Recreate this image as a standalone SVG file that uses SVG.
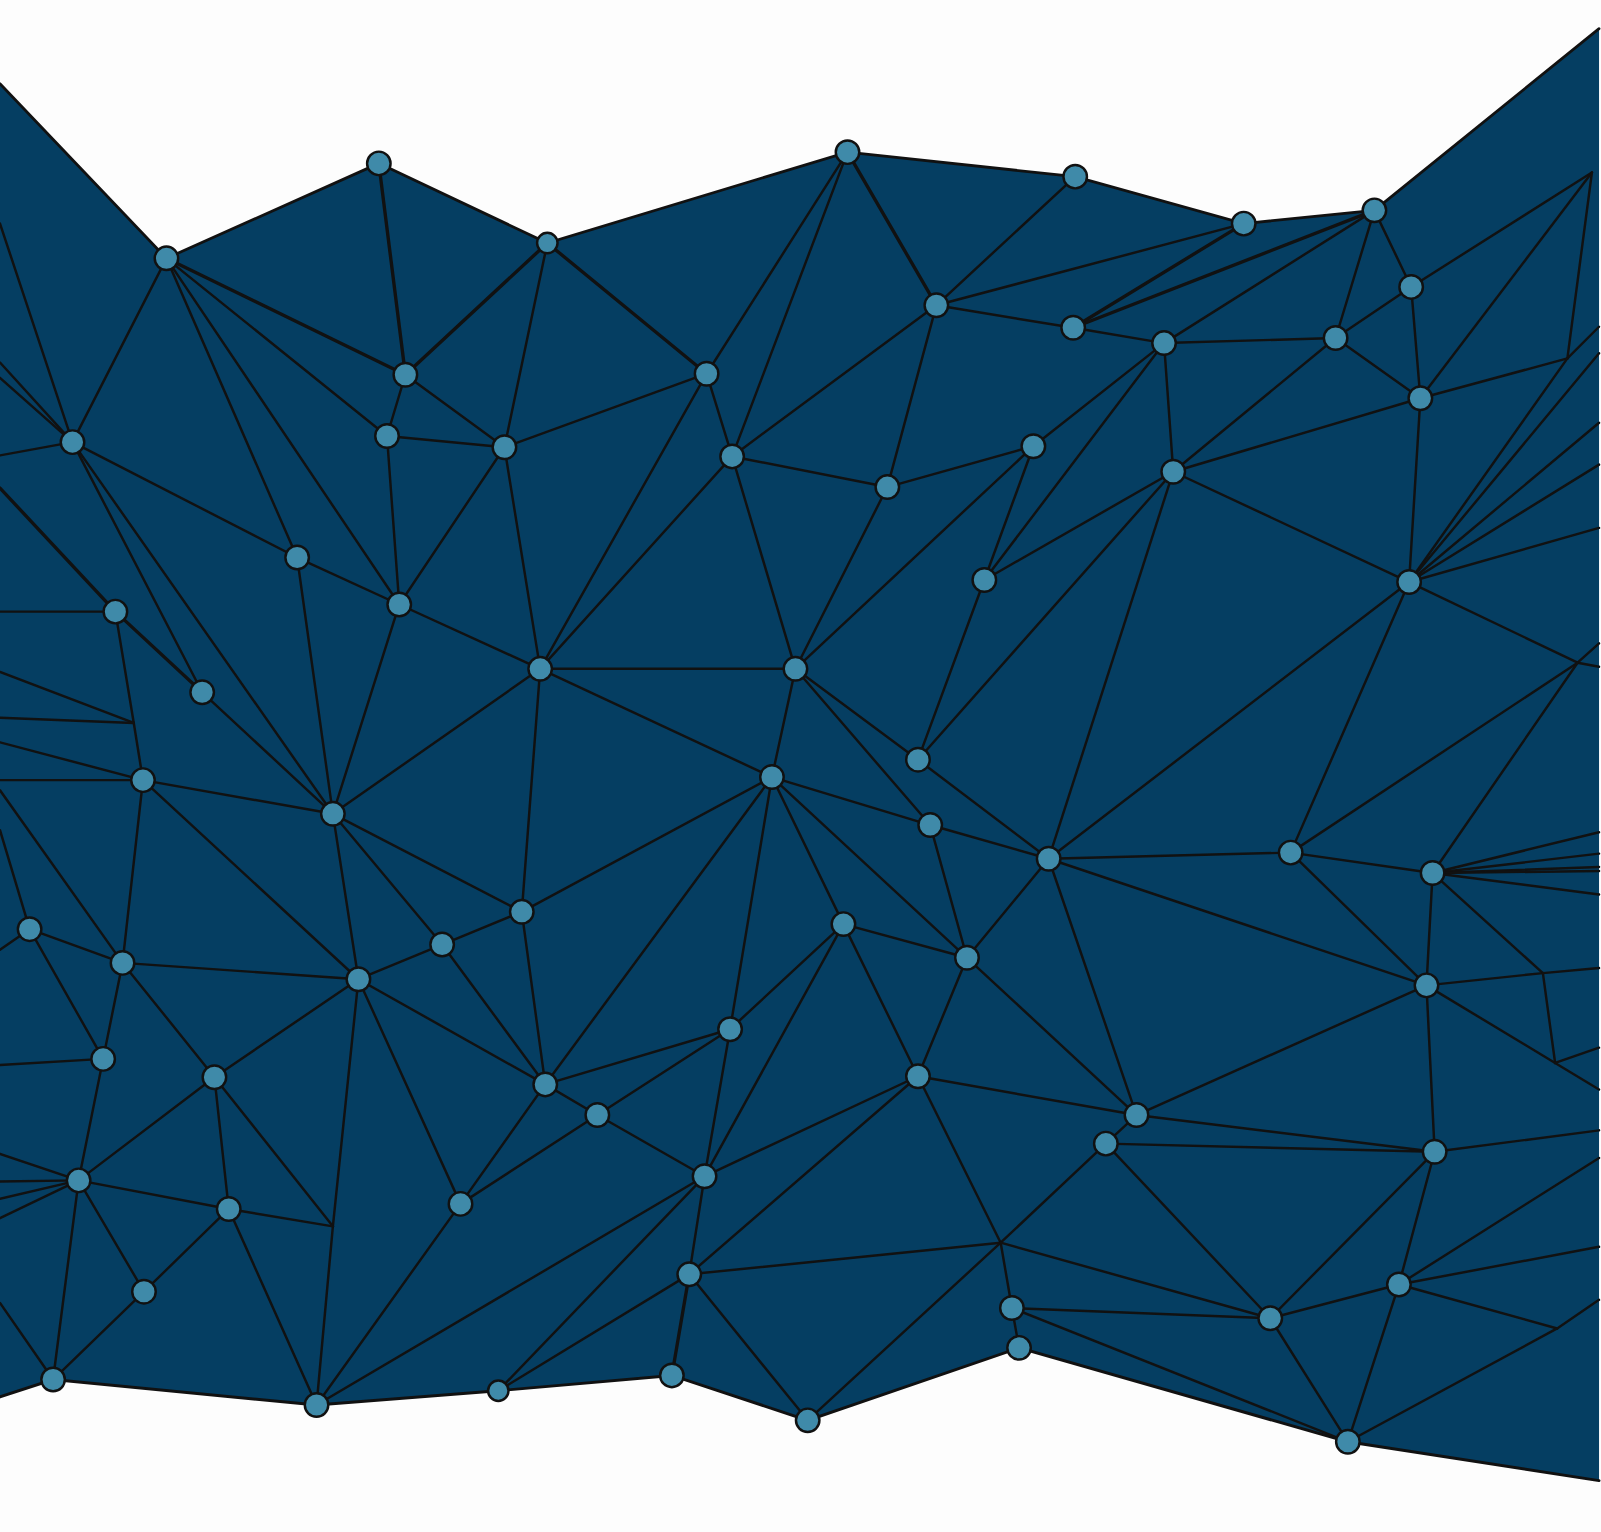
<svg xmlns="http://www.w3.org/2000/svg" width="1601" height="1532" viewBox="0 0 1601 1532">
<style>
.e{stroke:#111;stroke-width:2.4;fill:none;stroke-linecap:round}
.t{stroke-width:3.3}
.n{fill:#3f8aa9;stroke:#111;stroke-width:2.4}
</style>
<rect width="1601" height="1532" fill="#fdfdfd"/>
<g transform="scale(1.0211)">
<path d="M0,82 L163,253 L371,160 L536,238 L830,149 L1053,173 L1218,219 L1346,206 L1566,28 L1566,1450 L1320,1412 L998,1320 L791,1391 L658,1347 L488,1362 L310,1376 L52,1351 L0,1368 Z" fill="#053e62"/>
<g id="connectors">
<path class="e" d="M0,82 L163,253 L371,160 L536,238 L830,149 L1053,173 L1218,219 L1346,206 L1566,28" style="stroke-width:2.7"/>
<path class="e" d="M1566,1450 L1320,1412 L998,1320 L791,1391 L658,1347 L488,1362 L310,1376 L52,1351 L0,1368" style="stroke-width:2.9"/>
<line class="e" x1="163" y1="253" x2="71" y2="433"/>
<line class="e t" x1="163" y1="253" x2="397" y2="367"/>
<line class="e" x1="163" y1="253" x2="379" y2="427"/>
<line class="e" x1="163" y1="253" x2="291" y2="546"/>
<line class="e" x1="163" y1="253" x2="391" y2="592"/>
<line class="e t" x1="371" y1="160" x2="397" y2="367"/>
<line class="e t" x1="536" y1="238" x2="397" y2="367"/>
<line class="e" x1="536" y1="238" x2="494" y2="438"/>
<line class="e t" x1="536" y1="238" x2="692" y2="366"/>
<line class="e" x1="830" y1="149" x2="692" y2="366"/>
<line class="e" x1="830" y1="149" x2="717" y2="447"/>
<line class="e t" x1="830" y1="149" x2="917" y2="299"/>
<line class="e" x1="1053" y1="173" x2="917" y2="299"/>
<line class="e" x1="1218" y1="219" x2="917" y2="299"/>
<line class="e t" x1="1218" y1="219" x2="1051" y2="321"/>
<line class="e t" x1="1346" y1="206" x2="1051" y2="321"/>
<line class="e" x1="1346" y1="206" x2="1140" y2="336"/>
<line class="e" x1="1346" y1="206" x2="1308" y2="331"/>
<line class="e" x1="1346" y1="206" x2="1382" y2="281"/>
<line class="e" x1="397" y1="367" x2="379" y2="427"/>
<line class="e" x1="397" y1="367" x2="494" y2="438"/>
<line class="e" x1="379" y1="427" x2="494" y2="438"/>
<line class="e" x1="379" y1="427" x2="391" y2="592"/>
<line class="e" x1="494" y1="438" x2="692" y2="366"/>
<line class="e" x1="494" y1="438" x2="391" y2="592"/>
<line class="e" x1="494" y1="438" x2="529" y2="655"/>
<line class="e" x1="692" y1="366" x2="717" y2="447"/>
<line class="e" x1="692" y1="366" x2="529" y2="655"/>
<line class="e" x1="717" y1="447" x2="917" y2="299"/>
<line class="e" x1="717" y1="447" x2="869" y2="477"/>
<line class="e" x1="717" y1="447" x2="529" y2="655"/>
<line class="e" x1="717" y1="447" x2="779" y2="655"/>
<line class="e" x1="917" y1="299" x2="1051" y2="321"/>
<line class="e" x1="917" y1="299" x2="869" y2="477"/>
<line class="e" x1="1051" y1="321" x2="1140" y2="336"/>
<line class="e" x1="1140" y1="336" x2="1308" y2="331"/>
<line class="e" x1="1140" y1="336" x2="1012" y2="437"/>
<line class="e" x1="1140" y1="336" x2="964" y2="568"/>
<line class="e" x1="1140" y1="336" x2="1149" y2="462"/>
<line class="e" x1="1308" y1="331" x2="1382" y2="281"/>
<line class="e" x1="1308" y1="331" x2="1391" y2="390"/>
<line class="e" x1="1308" y1="331" x2="1149" y2="462"/>
<line class="e" x1="1382" y1="281" x2="1391" y2="390"/>
<line class="e" x1="1382" y1="281" x2="1559" y2="169"/>
<line class="e" x1="1391" y1="390" x2="1149" y2="462"/>
<line class="e" x1="1391" y1="390" x2="1380" y2="570"/>
<line class="e" x1="1391" y1="390" x2="1535" y2="351"/>
<line class="e" x1="1391" y1="390" x2="1559" y2="169"/>
<line class="e" x1="1559" y1="169" x2="1535" y2="351"/>
<line class="e" x1="1535" y1="351" x2="1566" y2="320"/>
<line class="e" x1="1535" y1="351" x2="1380" y2="570"/>
<line class="e" x1="1012" y1="437" x2="869" y2="477"/>
<line class="e" x1="1012" y1="437" x2="964" y2="568"/>
<line class="e" x1="1012" y1="437" x2="779" y2="655"/>
<line class="e" x1="869" y1="477" x2="779" y2="655"/>
<line class="e" x1="1149" y1="462" x2="964" y2="568"/>
<line class="e" x1="1149" y1="462" x2="1380" y2="570"/>
<line class="e" x1="1149" y1="462" x2="899" y2="744"/>
<line class="e" x1="1149" y1="462" x2="1027" y2="841"/>
<line class="e" x1="964" y1="568" x2="899" y2="744"/>
<line class="e" x1="1380" y1="570" x2="1027" y2="841"/>
<line class="e" x1="1380" y1="570" x2="1264" y2="835"/>
<line class="e" x1="1380" y1="570" x2="1566" y2="346"/>
<line class="e" x1="1380" y1="570" x2="1566" y2="414"/>
<line class="e" x1="1380" y1="570" x2="1566" y2="455"/>
<line class="e" x1="1380" y1="570" x2="1566" y2="517"/>
<line class="e" x1="1380" y1="570" x2="1545" y2="649"/>
<line class="e" x1="1545" y1="649" x2="1566" y2="653"/>
<line class="e" x1="1545" y1="649" x2="1566" y2="630"/>
<line class="e" x1="1545" y1="649" x2="1264" y2="835"/>
<line class="e" x1="1545" y1="649" x2="1403" y2="855"/>
<line class="e" x1="291" y1="546" x2="71" y2="433"/>
<line class="e" x1="291" y1="546" x2="391" y2="592"/>
<line class="e" x1="291" y1="546" x2="326" y2="797"/>
<line class="e" x1="391" y1="592" x2="529" y2="655"/>
<line class="e" x1="391" y1="592" x2="326" y2="797"/>
<line class="e" x1="71" y1="433" x2="198" y2="678"/>
<line class="e" x1="71" y1="433" x2="326" y2="797"/>
<line class="e" x1="71" y1="433" x2="0" y2="219"/>
<line class="e" x1="71" y1="433" x2="0" y2="355"/>
<line class="e" x1="71" y1="433" x2="0" y2="370"/>
<line class="e" x1="71" y1="433" x2="0" y2="446"/>
<line class="e t" x1="113" y1="599" x2="0" y2="478"/>
<line class="e t" x1="113" y1="599" x2="198" y2="678"/>
<line class="e" x1="113" y1="599" x2="0" y2="599"/>
<line class="e" x1="113" y1="599" x2="131" y2="708"/>
<line class="e" x1="131" y1="708" x2="140" y2="764"/>
<line class="e" x1="131" y1="708" x2="0" y2="658"/>
<line class="e" x1="131" y1="708" x2="0" y2="703"/>
<line class="e" x1="198" y1="678" x2="326" y2="797"/>
<line class="e" x1="140" y1="764" x2="0" y2="727"/>
<line class="e" x1="140" y1="764" x2="0" y2="764"/>
<line class="e" x1="140" y1="764" x2="326" y2="797"/>
<line class="e" x1="140" y1="764" x2="120" y2="943"/>
<line class="e" x1="140" y1="764" x2="351" y2="959"/>
<line class="e" x1="529" y1="655" x2="779" y2="655"/>
<line class="e" x1="529" y1="655" x2="326" y2="797"/>
<line class="e" x1="529" y1="655" x2="756" y2="761"/>
<line class="e" x1="529" y1="655" x2="511" y2="893"/>
<line class="e" x1="779" y1="655" x2="756" y2="761"/>
<line class="e" x1="779" y1="655" x2="899" y2="744"/>
<line class="e" x1="779" y1="655" x2="911" y2="808"/>
<line class="e" x1="326" y1="797" x2="511" y2="893"/>
<line class="e" x1="326" y1="797" x2="433" y2="925"/>
<line class="e" x1="326" y1="797" x2="351" y2="959"/>
<line class="e" x1="756" y1="761" x2="511" y2="893"/>
<line class="e" x1="756" y1="761" x2="534" y2="1062"/>
<line class="e" x1="756" y1="761" x2="715" y2="1008"/>
<line class="e" x1="756" y1="761" x2="911" y2="808"/>
<line class="e" x1="756" y1="761" x2="947" y2="938"/>
<line class="e" x1="756" y1="761" x2="826" y2="905"/>
<line class="e" x1="899" y1="744" x2="1027" y2="841"/>
<line class="e" x1="911" y1="808" x2="1027" y2="841"/>
<line class="e" x1="911" y1="808" x2="947" y2="938"/>
<line class="e" x1="1027" y1="841" x2="1264" y2="835"/>
<line class="e" x1="1027" y1="841" x2="947" y2="938"/>
<line class="e" x1="1027" y1="841" x2="1397" y2="965"/>
<line class="e" x1="1027" y1="841" x2="1113" y2="1092"/>
<line class="e" x1="1264" y1="835" x2="1403" y2="855"/>
<line class="e" x1="1264" y1="835" x2="1397" y2="965"/>
<line class="e" x1="1403" y1="855" x2="1397" y2="965"/>
<line class="e" x1="1403" y1="855" x2="1511" y2="953"/>
<line class="e" x1="1403" y1="855" x2="1566" y2="815"/>
<line class="e" x1="1403" y1="855" x2="1566" y2="836"/>
<line class="e" x1="1403" y1="855" x2="1566" y2="849"/>
<line class="e" x1="1403" y1="855" x2="1566" y2="853"/>
<line class="e" x1="1403" y1="855" x2="1566" y2="876"/>
<line class="e" x1="511" y1="893" x2="433" y2="925"/>
<line class="e" x1="511" y1="893" x2="534" y2="1062"/>
<line class="e" x1="826" y1="905" x2="947" y2="938"/>
<line class="e" x1="826" y1="905" x2="715" y2="1008"/>
<line class="e" x1="826" y1="905" x2="690" y2="1152"/>
<line class="e" x1="826" y1="905" x2="899" y2="1054"/>
<line class="e" x1="29" y1="910" x2="0" y2="813"/>
<line class="e" x1="29" y1="910" x2="0" y2="930"/>
<line class="e" x1="29" y1="910" x2="120" y2="943"/>
<line class="e" x1="29" y1="910" x2="101" y2="1037"/>
<line class="e" x1="120" y1="943" x2="0" y2="774"/>
<line class="e" x1="120" y1="943" x2="351" y2="959"/>
<line class="e" x1="120" y1="943" x2="101" y2="1037"/>
<line class="e" x1="120" y1="943" x2="210" y2="1055"/>
<line class="e" x1="351" y1="959" x2="433" y2="925"/>
<line class="e" x1="351" y1="959" x2="210" y2="1055"/>
<line class="e" x1="351" y1="959" x2="534" y2="1062"/>
<line class="e" x1="351" y1="959" x2="451" y2="1179"/>
<line class="e" x1="351" y1="959" x2="326" y2="1201"/>
<line class="e" x1="326" y1="1201" x2="310" y2="1376"/>
<line class="e" x1="433" y1="925" x2="534" y2="1062"/>
<line class="e" x1="947" y1="938" x2="899" y2="1054"/>
<line class="e" x1="947" y1="938" x2="1113" y2="1092"/>
<line class="e" x1="1397" y1="965" x2="1511" y2="953"/>
<line class="e" x1="1511" y1="953" x2="1566" y2="948"/>
<line class="e" x1="1511" y1="953" x2="1523" y2="1041"/>
<line class="e" x1="1397" y1="965" x2="1523" y2="1041"/>
<line class="e" x1="1523" y1="1041" x2="1566" y2="1067"/>
<line class="e" x1="1523" y1="1041" x2="1566" y2="1026"/>
<line class="e" x1="1397" y1="965" x2="1113" y2="1092"/>
<line class="e" x1="1397" y1="965" x2="1405" y2="1128"/>
<line class="e" x1="101" y1="1037" x2="0" y2="1043"/>
<line class="e" x1="101" y1="1037" x2="77" y2="1156"/>
<line class="e" x1="210" y1="1055" x2="77" y2="1156"/>
<line class="e" x1="210" y1="1055" x2="224" y2="1184"/>
<line class="e" x1="210" y1="1055" x2="326" y2="1201"/>
<line class="e" x1="715" y1="1008" x2="534" y2="1062"/>
<line class="e" x1="715" y1="1008" x2="585" y2="1092"/>
<line class="e" x1="715" y1="1008" x2="690" y2="1152"/>
<line class="e" x1="534" y1="1062" x2="585" y2="1092"/>
<line class="e" x1="534" y1="1062" x2="451" y2="1179"/>
<line class="e" x1="585" y1="1092" x2="451" y2="1179"/>
<line class="e" x1="585" y1="1092" x2="690" y2="1152"/>
<line class="e" x1="899" y1="1054" x2="1113" y2="1092"/>
<line class="e" x1="899" y1="1054" x2="690" y2="1152"/>
<line class="e" x1="899" y1="1054" x2="675" y2="1248"/>
<line class="e" x1="899" y1="1054" x2="980" y2="1217"/>
<line class="e" x1="1113" y1="1092" x2="1083" y2="1120"/>
<line class="e" x1="1113" y1="1092" x2="1405" y2="1128"/>
<line class="e" x1="1083" y1="1120" x2="1405" y2="1128"/>
<line class="e" x1="1083" y1="1120" x2="980" y2="1217"/>
<line class="e" x1="1083" y1="1120" x2="1244" y2="1291"/>
<line class="e" x1="1405" y1="1128" x2="1244" y2="1291"/>
<line class="e" x1="1405" y1="1128" x2="1370" y2="1258"/>
<line class="e" x1="1405" y1="1128" x2="1566" y2="1107"/>
<line class="e" x1="77" y1="1156" x2="0" y2="1130"/>
<line class="e" x1="77" y1="1156" x2="0" y2="1157"/>
<line class="e" x1="77" y1="1156" x2="0" y2="1174"/>
<line class="e" x1="77" y1="1156" x2="0" y2="1193"/>
<line class="e" x1="77" y1="1156" x2="224" y2="1184"/>
<line class="e" x1="77" y1="1156" x2="141" y2="1265"/>
<line class="e" x1="77" y1="1156" x2="52" y2="1351"/>
<line class="e" x1="224" y1="1184" x2="141" y2="1265"/>
<line class="e" x1="224" y1="1184" x2="326" y2="1201"/>
<line class="e" x1="224" y1="1184" x2="310" y2="1376"/>
<line class="e" x1="451" y1="1179" x2="310" y2="1376"/>
<line class="e" x1="690" y1="1152" x2="675" y2="1248"/>
<line class="e" x1="690" y1="1152" x2="310" y2="1376"/>
<line class="e" x1="690" y1="1152" x2="488" y2="1362"/>
<line class="e" x1="675" y1="1248" x2="488" y2="1362"/>
<line class="e t" x1="675" y1="1248" x2="658" y2="1347"/>
<line class="e" x1="675" y1="1248" x2="791" y2="1391"/>
<line class="e" x1="675" y1="1248" x2="980" y2="1217"/>
<line class="e" x1="141" y1="1265" x2="52" y2="1351"/>
<line class="e" x1="52" y1="1351" x2="0" y2="1276"/>
<line class="e" x1="980" y1="1217" x2="791" y2="1391"/>
<line class="e" x1="980" y1="1217" x2="991" y2="1281"/>
<line class="e" x1="980" y1="1217" x2="1244" y2="1291"/>
<line class="e" x1="991" y1="1281" x2="998" y2="1320"/>
<line class="e" x1="991" y1="1281" x2="1244" y2="1291"/>
<line class="e" x1="991" y1="1281" x2="1320" y2="1412"/>
<line class="e" x1="1244" y1="1291" x2="1370" y2="1258"/>
<line class="e" x1="1244" y1="1291" x2="1320" y2="1412"/>
<line class="e" x1="1370" y1="1258" x2="1320" y2="1412"/>
<line class="e" x1="1370" y1="1258" x2="1525" y2="1301"/>
<line class="e" x1="1370" y1="1258" x2="1566" y2="1134"/>
<line class="e" x1="1370" y1="1258" x2="1566" y2="1221"/>
<line class="e" x1="1525" y1="1301" x2="1320" y2="1412"/>
<line class="e" x1="1525" y1="1301" x2="1566" y2="1273"/>
</g>
<g id="A1"><circle class="n" cx="163" cy="253" r="11.5"/></g>
<g id="A2"><circle class="n" cx="371" cy="160" r="11.5"/></g>
<g id="A3"><circle class="n" cx="536" cy="238" r="10"/></g>
<g id="A4"><circle class="n" cx="830" cy="149" r="11.5"/></g>
<g id="A5"><circle class="n" cx="1053" cy="173" r="11.5"/></g>
<g id="A6"><circle class="n" cx="1218" cy="219" r="11.5"/></g>
<g id="A7"><circle class="n" cx="1346" cy="206" r="11.5"/></g>
<g id="B1"><circle class="n" cx="52" cy="1351" r="11.5"/></g>
<g id="B2"><circle class="n" cx="310" cy="1376" r="11.5"/></g>
<g id="B3"><circle class="n" cx="488" cy="1362" r="10"/></g>
<g id="B4"><circle class="n" cx="658" cy="1347" r="11.5"/></g>
<g id="B5"><circle class="n" cx="791" cy="1391" r="11.5"/></g>
<g id="B6"><circle class="n" cx="998" cy="1320" r="11.5"/></g>
<g id="B7"><circle class="n" cx="1320" cy="1412" r="11.5"/></g>
<g id="N1"><circle class="n" cx="71" cy="433" r="11.5"/></g>
<g id="N2"><circle class="n" cx="397" cy="367" r="11.5"/></g>
<g id="N3"><circle class="n" cx="379" cy="427" r="11.5"/></g>
<g id="N4"><circle class="n" cx="494" cy="438" r="11.5"/></g>
<g id="N5"><circle class="n" cx="692" cy="366" r="11.5"/></g>
<g id="N6"><circle class="n" cx="717" cy="447" r="11.5"/></g>
<g id="N7"><circle class="n" cx="917" cy="299" r="11.5"/></g>
<g id="N8"><circle class="n" cx="1051" cy="321" r="11.5"/></g>
<g id="N9"><circle class="n" cx="1140" cy="336" r="11.5"/></g>
<g id="N10"><circle class="n" cx="1308" cy="331" r="11.5"/></g>
<g id="N11"><circle class="n" cx="1382" cy="281" r="11.5"/></g>
<g id="N12"><circle class="n" cx="1391" cy="390" r="11.5"/></g>
<g id="N13"><circle class="n" cx="1012" cy="437" r="11.5"/></g>
<g id="N14"><circle class="n" cx="869" cy="477" r="11.5"/></g>
<g id="N15"><circle class="n" cx="1149" cy="462" r="11.5"/></g>
<g id="N16"><circle class="n" cx="964" cy="568" r="11.5"/></g>
<g id="N17"><circle class="n" cx="1380" cy="570" r="11.5"/></g>
<g id="N18"><circle class="n" cx="291" cy="546" r="11.5"/></g>
<g id="N19"><circle class="n" cx="391" cy="592" r="11.5"/></g>
<g id="N20"><circle class="n" cx="113" cy="599" r="11.5"/></g>
<g id="N21"><circle class="n" cx="198" cy="678" r="11.5"/></g>
<g id="N22"><circle class="n" cx="529" cy="655" r="11.5"/></g>
<g id="N23"><circle class="n" cx="779" cy="655" r="11.5"/></g>
<g id="N24"><circle class="n" cx="140" cy="764" r="11.5"/></g>
<g id="N25"><circle class="n" cx="326" cy="797" r="11.5"/></g>
<g id="N26"><circle class="n" cx="756" cy="761" r="11.5"/></g>
<g id="N27"><circle class="n" cx="899" cy="744" r="11.5"/></g>
<g id="N28"><circle class="n" cx="911" cy="808" r="11.5"/></g>
<g id="N29"><circle class="n" cx="1027" cy="841" r="11.5"/></g>
<g id="N30"><circle class="n" cx="1264" cy="835" r="11.5"/></g>
<g id="N31"><circle class="n" cx="1403" cy="855" r="11.5"/></g>
<g id="N32"><circle class="n" cx="511" cy="893" r="11.5"/></g>
<g id="N33"><circle class="n" cx="826" cy="905" r="11.5"/></g>
<g id="N34"><circle class="n" cx="29" cy="910" r="11.5"/></g>
<g id="N35"><circle class="n" cx="120" cy="943" r="11.5"/></g>
<g id="N36"><circle class="n" cx="351" cy="959" r="11.5"/></g>
<g id="N37"><circle class="n" cx="433" cy="925" r="11.5"/></g>
<g id="N38"><circle class="n" cx="947" cy="938" r="11.5"/></g>
<g id="N39"><circle class="n" cx="1397" cy="965" r="11.5"/></g>
<g id="N40"><circle class="n" cx="101" cy="1037" r="11.5"/></g>
<g id="N41"><circle class="n" cx="210" cy="1055" r="11.5"/></g>
<g id="N42"><circle class="n" cx="715" cy="1008" r="11.5"/></g>
<g id="N43"><circle class="n" cx="534" cy="1062" r="11.5"/></g>
<g id="N44"><circle class="n" cx="585" cy="1092" r="11.5"/></g>
<g id="N45"><circle class="n" cx="899" cy="1054" r="11.5"/></g>
<g id="N46"><circle class="n" cx="1113" cy="1092" r="11.5"/></g>
<g id="N47"><circle class="n" cx="1083" cy="1120" r="11.5"/></g>
<g id="N48"><circle class="n" cx="1405" cy="1128" r="11.5"/></g>
<g id="N49"><circle class="n" cx="77" cy="1156" r="11.5"/></g>
<g id="N50"><circle class="n" cx="224" cy="1184" r="11.5"/></g>
<g id="N51"><circle class="n" cx="451" cy="1179" r="11.5"/></g>
<g id="N52"><circle class="n" cx="690" cy="1152" r="11.5"/></g>
<g id="N53"><circle class="n" cx="675" cy="1248" r="11.5"/></g>
<g id="N54"><circle class="n" cx="141" cy="1265" r="11.5"/></g>
<g id="N55"><circle class="n" cx="991" cy="1281" r="11.5"/></g>
<g id="N56"><circle class="n" cx="1244" cy="1291" r="11.5"/></g>
<g id="N57"><circle class="n" cx="1370" cy="1258" r="11.5"/></g>
</g>
</svg>
